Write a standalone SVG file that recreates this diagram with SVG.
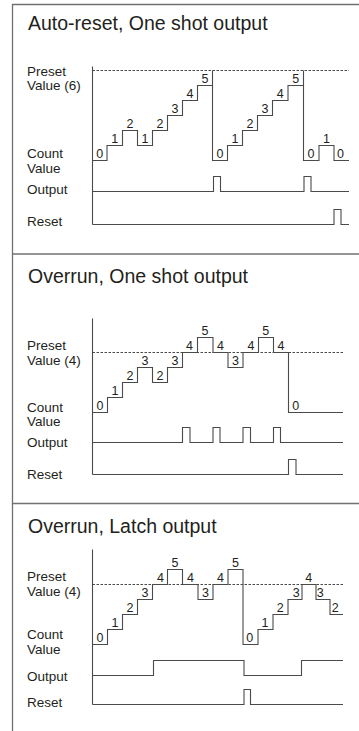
<svg xmlns="http://www.w3.org/2000/svg" width="359" height="731" viewBox="0 0 359 731">
  <style>
    .frame { fill: none; stroke: #707070; stroke-width: 1.3; }
    .sig { fill: none; stroke: #4a4a4a; stroke-width: 1.1; }
    .preset { fill: none; stroke: #4a4a4a; stroke-width: 1; stroke-dasharray: 2.5 1.5; }
    .title { font-family: "Liberation Sans", Arial, sans-serif; font-size: 19.5px; fill: #231f20; }
    .lbl { font-family: "Liberation Sans", Arial, sans-serif; font-size: 13.5px; fill: #231f20; }
    .num { font-family: "Liberation Sans", Arial, sans-serif; font-size: 12.5px; fill: #231f20; text-anchor: middle; }
  </style>
  <rect width="359" height="731" fill="#ffffff"/>

  <!-- outer frame and panel dividers -->
  <g id="frame">
    <path class="frame" d="M359,4.5 H12.5 V731"/>
    <path class="frame" d="M12.5,254 H359"/>
    <path class="frame" d="M12.5,503.5 H359"/>
  </g>

  <!-- Panel 1: auto-reset, one shot output -->
  <g id="panel-autoreset">
    <text class="title" x="28" y="30">Auto-reset, One shot output</text>
    <g id="p1-labels">
      <text class="lbl" x="27" y="75.7">Preset</text>
      <text class="lbl" x="27" y="89.5">Value (6)</text>
      <text class="lbl" x="27" y="158.3">Count</text>
      <text class="lbl" x="27" y="173.3">Value</text>
      <text class="lbl" x="27" y="194.3">Output</text>
      <text class="lbl" x="27" y="226">Reset</text>
    </g>
    <g id="p1-signals">
      <path class="sig" d="M92.5,66.5 V224.5"/>
      <path class="preset" d="M92.5,70.5 H349"/>
      <path class="sig" d="M92.5,160.5 H107 V145.5 H122.5 V130.5 H137.5 V145.5 H152.5 V130.5 H167.5 V115.5 H182.5 V100.5 H197.5 V85.5 H212.5 V70.5 V160.5 H227.5 V145.5 H242.5 V130.5 H257.5 V115.5 H272.5 V100.5 H288 V85.5 H303.5 V70.5 V160.5 H319 V145.5 H334 V160.5 H349"/>
      <path class="sig" d="M92.5,191.5 H213.5 V176.5 H220.5 V191.5 H304 V176.5 H311 V191.5 H349"/>
      <path class="sig" d="M92.5,224.5 H334 V209.5 H341 V224.5 H349"/>
    </g>
    <g id="p1-counts">
      <text class="num" x="99.8" y="157.8">0</text>
      <text class="num" x="114.7" y="142.8">1</text>
      <text class="num" x="130" y="127.8">2</text>
      <text class="num" x="145" y="142.8">1</text>
      <text class="num" x="160" y="127.8">2</text>
      <text class="num" x="175" y="112.8">3</text>
      <text class="num" x="190" y="97.8">4</text>
      <text class="num" x="205" y="82.8">5</text>
      <text class="num" x="220" y="157.8">0</text>
      <text class="num" x="235" y="142.8">1</text>
      <text class="num" x="250" y="127.8">2</text>
      <text class="num" x="265" y="112.8">3</text>
      <text class="num" x="280.2" y="97.8">4</text>
      <text class="num" x="295.7" y="82.8">5</text>
      <text class="num" x="311" y="157.8">0</text>
      <text class="num" x="326.5" y="142.8">1</text>
      <text class="num" x="340.5" y="157.8">0</text>
    </g>
  </g>

  <!-- Panel 2: overrun, one shot output -->
  <g id="panel-overrun-oneshot">
    <text class="title" x="28" y="283">Overrun, One shot output</text>
    <g id="p2-labels">
      <text class="lbl" x="27" y="350">Preset</text>
      <text class="lbl" x="27" y="365">Value (4)</text>
      <text class="lbl" x="27" y="411.7">Count</text>
      <text class="lbl" x="27" y="426">Value</text>
      <text class="lbl" x="27" y="447.3">Output</text>
      <text class="lbl" x="27" y="479">Reset</text>
    </g>
    <g id="p2-signals">
      <path class="sig" d="M92.5,318.5 V474.5"/>
      <path class="preset" d="M92.5,352.5 H343"/>
      <path class="sig" d="M92.5,412.5 H107.5 V397.5 H122.5 V382.5 H137.5 V367.5 H152.5 V382.5 H167.5 V367.5 H182.5 V352.5 H197.5 V337.5 H213 V352.5 H228 V367.5 H243 V352.5 H258.5 V337.5 H273.5 V352.5 H288.5 V412.5 H343"/>
      <path class="sig" d="M92.5,442.5 H182.5 V427.5 H190 V442.5 H213 V427.5 H220 V442.5 H243 V427.5 H250.5 V442.5 H273.5 V427.5 H280.5 V442.5 H343"/>
      <path class="sig" d="M92.5,474.5 H288.5 V459.5 H296 V474.5 H343"/>
    </g>
    <g id="p2-counts">
      <text class="num" x="100" y="409.8">0</text>
      <text class="num" x="115" y="394.8">1</text>
      <text class="num" x="130" y="379.8">2</text>
      <text class="num" x="145" y="364.8">3</text>
      <text class="num" x="160" y="379.8">2</text>
      <text class="num" x="175" y="364.8">3</text>
      <text class="num" x="189.5" y="349.8">4</text>
      <text class="num" x="205" y="334.8">5</text>
      <text class="num" x="220.6" y="349.8">4</text>
      <text class="num" x="235.4" y="364.8">3</text>
      <text class="num" x="251" y="349.8">4</text>
      <text class="num" x="265.7" y="334.8">5</text>
      <text class="num" x="281" y="349.8">4</text>
      <text class="num" x="295.7" y="409.8">0</text>
    </g>
  </g>

  <!-- Panel 3: overrun, latch output -->
  <g id="panel-overrun-latch">
    <text class="title" x="28" y="533.3">Overrun, Latch output</text>
    <g id="p3-labels">
      <text class="lbl" x="27" y="581">Preset</text>
      <text class="lbl" x="27" y="596">Value (4)</text>
      <text class="lbl" x="27" y="639.3">Count</text>
      <text class="lbl" x="27" y="654.3">Value</text>
      <text class="lbl" x="27" y="680.7">Output</text>
      <text class="lbl" x="27" y="706.7">Reset</text>
    </g>
    <g id="p3-signals">
      <path class="sig" d="M92.5,549.5 V704.5"/>
      <path class="preset" d="M92.5,584.5 H343"/>
      <path class="sig" d="M92.5,644.5 H107.5 V629.5 H122.5 V614.5 H137.5 V599.5 H152.5 V584.5 H167.5 V569.5 H182.5 V584.5 H198 V599.5 H213 V584.5 H228 V569.5 H243 V644.5 H258 V629.5 H273 V614.5 H288 V599.5 H302 V584.5 H316 V599.5 H330 V614.5 H343"/>
      <path class="sig" d="M92.5,675.5 H153.5 V660.5 H244 V675.5 H301.5 V660.5 H343"/>
      <path class="sig" d="M92.5,704.5 H244 V689.5 H250.5 V704.5 H343"/>
    </g>
    <g id="p3-counts">
      <text class="num" x="100" y="641.8">0</text>
      <text class="num" x="115" y="626.8">1</text>
      <text class="num" x="130" y="611.8">2</text>
      <text class="num" x="145" y="596.8">3</text>
      <text class="num" x="160.5" y="581.8">4</text>
      <text class="num" x="175" y="566.8">5</text>
      <text class="num" x="190.5" y="581.8">4</text>
      <text class="num" x="205.5" y="596.8">3</text>
      <text class="num" x="220.5" y="581.8">4</text>
      <text class="num" x="235.5" y="566.8">5</text>
      <text class="num" x="249.7" y="641.8">0</text>
      <text class="num" x="265" y="626.8">1</text>
      <text class="num" x="280.3" y="611.8">2</text>
      <text class="num" x="296.3" y="596.8">3</text>
      <text class="num" x="308.7" y="581.8">4</text>
      <text class="num" x="320.3" y="596.8">3</text>
      <text class="num" x="335.3" y="611.8">2</text>
    </g>
  </g>
</svg>
